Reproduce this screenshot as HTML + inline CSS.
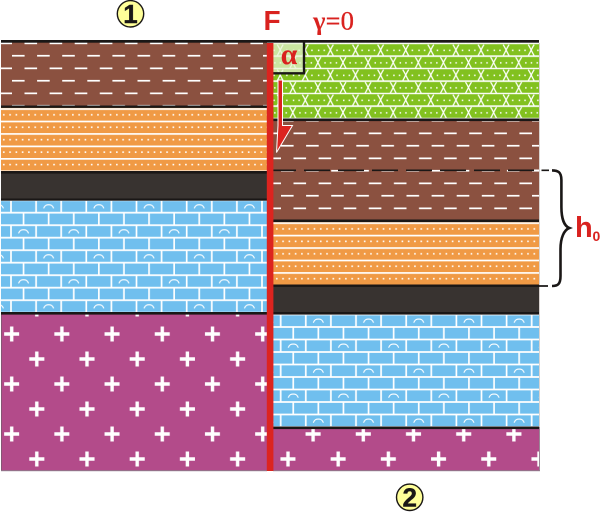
<!DOCTYPE html>
<html>
<head>
<meta charset="utf-8">
<style>
html,body{margin:0;padding:0;background:#fff;width:600px;height:512px;overflow:hidden}
svg{display:block}
</style>
</head>
<body>
<svg width="600" height="512" viewBox="0 0 600 512" xmlns="http://www.w3.org/2000/svg">
<defs>
<pattern id="brL" patternUnits="userSpaceOnUse" x="12" y="50" width="25.1" height="25">
<rect width="25.1" height="25" fill="#8b5140"/>
<rect x="0" y="4.9" width="12.6" height="1.7" fill="#fff"/>
<rect x="12.5" y="17.5" width="12.6" height="1.7" fill="#fff"/>
</pattern>
<pattern id="brR" patternUnits="userSpaceOnUse" x="281" y="140" width="25.1" height="25">
<rect width="25.1" height="25" fill="#8b5140"/>
<rect x="0" y="4.9" width="12.6" height="1.7" fill="#fff"/>
<rect x="12.5" y="17.5" width="12.6" height="1.7" fill="#fff"/>
</pattern>
<pattern id="orL" patternUnits="userSpaceOnUse" x="1" y="108.2" width="6.28" height="12.45">
<rect width="6.28" height="12.45" fill="#f09a45"/>
<rect y="0" width="6.28" height="1.7" fill="#fff"/>
<rect x="2" y="5.8" width="1.6" height="1.6" fill="#fff"/>
</pattern>
<pattern id="orR" patternUnits="userSpaceOnUse" x="274" y="222.3" width="6.28" height="12.45">
<rect width="6.28" height="12.45" fill="#f09a45"/>
<rect y="0" width="6.28" height="1.7" fill="#fff"/>
<rect x="2" y="5.8" width="1.6" height="1.6" fill="#fff"/>
</pattern>
<pattern id="blL" patternUnits="userSpaceOnUse" x="11" y="200.2" width="50.2" height="50">
<rect width="50.2" height="50" fill="#70bfee"/>
<g stroke="#fff" stroke-width="1.7" fill="none">
<path d="M0 12.5H50.2M0 25H50.2M0 37.5H50.2M0 0H50.2M0 50H50.2"/>
<path d="M0 0V12.5M25.1 0V12.5M50.2 0V12.5M0 25V37.5M25.1 25V37.5M50.2 25V37.5M12.55 12.5V25M37.65 12.5V25M12.55 37.5V50M37.65 37.5V50"/>
<path d="M32.6 8.2C33.8 5 35.5 4.6 37.65 4.6C39.8 4.6 41.5 5 42.7 8.2M7.5 33.2C8.7 30 10.4 29.6 12.55 29.6C14.7 29.6 16.4 30 17.6 33.2" stroke-width="1.1"/>
</g>
</pattern>
<pattern id="blR" patternUnits="userSpaceOnUse" x="280.7" y="314.5" width="50.2" height="50">
<rect width="50.2" height="50" fill="#70bfee"/>
<g stroke="#fff" stroke-width="1.7" fill="none">
<path d="M0 12.5H50.2M0 25H50.2M0 37.5H50.2M0 0H50.2M0 50H50.2"/>
<path d="M0 0V12.5M25.1 0V12.5M50.2 0V12.5M0 25V37.5M25.1 25V37.5M50.2 25V37.5M12.55 12.5V25M37.65 12.5V25M12.55 37.5V50M37.65 37.5V50"/>
<path d="M32.6 8.2C33.8 5 35.5 4.6 37.65 4.6C39.8 4.6 41.5 5 42.7 8.2M7.5 33.2C8.7 30 10.4 29.6 12.55 29.6C14.7 29.6 16.4 30 17.6 33.2" stroke-width="1.1"/>
</g>
</pattern>
<pattern id="mgL" patternUnits="userSpaceOnUse" x="-0.85" y="371.5" width="50.2" height="50">
<rect width="50.2" height="50" fill="#b34b8a"/>
<path d="M5 12.5H20M12.55 5V20M30.1 37.5H45.2M37.65 30V45" stroke="#fff" stroke-width="3.4" fill="none"/>
</pattern>
<pattern id="mgR" patternUnits="userSpaceOnUse" x="275.45" y="446.5" width="50.2" height="50">
<rect width="50.2" height="50" fill="#b34b8a"/>
<path d="M5 12.5H20M12.55 5V20M30.1 37.5H45.2M37.65 30V45" stroke="#fff" stroke-width="3.4" fill="none"/>
</pattern>
<pattern id="gr" patternUnits="userSpaceOnUse" x="317.9" y="44.2" width="25.1" height="25">
<rect width="25.1" height="25" fill="#82c11f"/>
<path d="M0 11.9H25.1M0 24.4H25.1" stroke="#fff" stroke-width="1.6"/>
<g stroke="#fff" stroke-width="1.3" fill="none">
<path d="M9.5 0.5C11.5 3 13.5 8.5 15.5 11.5M15.5 0.5C13.5 3 11.5 8.5 9.5 11.5"/>
<path d="M-3 13C-1 15.5 1 21 3 24M3 13C1 15.5 -1 21 -3 24M22.1 13C24.1 15.5 26.1 21 28.1 24M28.1 13C26.1 15.5 24.1 21 22.1 24"/>
</g>
<g fill="#fff">
<rect x="0" y="5.4" width="1.5" height="1.5"/><rect x="5.6" y="5.4" width="1.5" height="1.5"/><rect x="18.4" y="5.4" width="1.5" height="1.5"/>
<rect x="6.4" y="17.9" width="1.5" height="1.5"/><rect x="12" y="17.9" width="1.5" height="1.5"/><rect x="17.8" y="17.9" width="1.5" height="1.5"/>
</g>
</pattern>
</defs>

<!-- Left column -->
<rect x="1" y="42" width="266" height="65" fill="url(#brL)"/>
<rect x="1" y="107" width="266" height="65" fill="url(#orL)"/>
<rect x="1" y="171" width="266" height="30" fill="#383330"/>
<rect x="1" y="200.5" width="266" height="113" fill="url(#blL)"/>
<rect x="1" y="314" width="266" height="157" fill="url(#mgL)"/>
<rect x="1" y="314" width="0.8" height="157" fill="#7a5a70"/>
<rect x="1" y="470.2" width="266" height="1" fill="#8f7a8a"/>
<g fill="#1a1716">
<rect x="1" y="105.5" width="266" height="2.4"/>
<rect x="1" y="171" width="266" height="2.6"/>
<rect x="1" y="198.5" width="266" height="2.2"/>
<rect x="1" y="312" width="266" height="2.6"/>
</g>

<!-- Right column -->
<rect x="273" y="43" width="266" height="77" fill="url(#gr)"/>
<rect x="273" y="120" width="266" height="101" fill="url(#brR)"/>
<rect x="273" y="222" width="266" height="64" fill="url(#orR)"/>
<rect x="273" y="285" width="266" height="30" fill="#383330"/>
<rect x="273" y="314.5" width="266" height="113" fill="url(#blR)"/>
<rect x="273" y="427" width="266" height="44" fill="url(#mgR)"/>
<rect x="539" y="427" width="0.9" height="44" fill="#8f7a8a"/>
<rect x="273" y="470.2" width="267" height="1" fill="#8f7a8a"/>
<rect x="539" y="43" width="0.8" height="384" fill="#cfc8c4"/>
<g fill="#1a1716">
<rect x="273" y="118.5" width="266" height="2.6"/>
<rect x="273" y="219.5" width="266" height="2.6"/>
<rect x="273" y="284.5" width="266" height="2.4"/>
<rect x="273" y="312" width="266" height="2.6"/>
<rect x="273" y="426.5" width="266" height="2.6"/>
</g>

<!-- Dashed marker line -->
<path d="M270 170.3H296M304 170.3H330M338 170.3H364M372 170.3H398M406 170.3H432M440 170.3H466M474 170.3H500M508 170.3H534M541.5 170.3H549" stroke="#1a1716" stroke-width="1.7" fill="none"/>
<rect x="534" y="169.5" width="5" height="1.6" fill="#fff"/>
<path d="M530 286H548" stroke="#1a1716" stroke-width="1.7" fill="none"/>

<!-- Top line -->
<rect x="1" y="40" width="538" height="2.7" fill="#1a1716"/>

<!-- alpha box -->
<rect x="273" y="43" width="31" height="30" fill="#e6f2d4" fill-opacity="0.72"/>
<path d="M304 41V73.3H272.5" stroke="#1a1716" stroke-width="2.4" fill="none"/>
<text x="289" y="64" text-anchor="middle" font-family="'Liberation Serif',serif" font-weight="bold" font-size="30" fill="#d9221f">α</text>

<!-- Fault -->
<rect x="266.8" y="43" width="6.6" height="428" fill="#dc241f"/>

<!-- Arrow -->
<path d="M278 80H282.5V125.5H292.5L276.5 152.5L278 125.5Z" fill="#dc241f" stroke="#fff" stroke-width="1" stroke-linejoin="miter"/>

<!-- Brace -->
<path d="M552 170.4C558 170.4 561.4 172 561.4 180V207C561.4 218 564 226 569.3 228C564 230 560.5 238 560.5 249V276C560.5 284 558 286 552 286" stroke="#1a1716" stroke-width="2.6" fill="none"/>

<!-- Labels -->
<text x="263.5" y="30" font-family="'Liberation Sans',sans-serif" font-weight="bold" font-size="28" fill="#d9221f">F</text>
<text x="313" y="29.5" font-family="'Liberation Serif',serif" font-size="26" fill="#d9221f" textLength="41" lengthAdjust="spacingAndGlyphs"><tspan font-weight="bold">γ=</tspan><tspan stroke="#d9221f" stroke-width="0.3">0</tspan></text>
<text x="575" y="237" font-family="'Liberation Sans',sans-serif" font-weight="bold" font-size="29" fill="#d9221f">h</text>
<text x="592.5" y="241" font-family="'Liberation Sans',sans-serif" font-weight="bold" font-size="14" fill="#d9221f">0</text>

<circle cx="130.5" cy="13.8" r="13.2" fill="#ffff99" stroke="#1a1716" stroke-width="1.4"/>
<text x="130.5" y="23" text-anchor="middle" font-family="'Liberation Sans',sans-serif" font-weight="bold" font-size="26" fill="#1a1716" stroke="#1a1716" stroke-width="0.4">1</text>
<circle cx="409.7" cy="497.3" r="13.2" fill="#ffff99" stroke="#1a1716" stroke-width="1.4"/>
<text x="409.7" y="506.5" text-anchor="middle" font-family="'Liberation Sans',sans-serif" font-weight="bold" font-size="26" fill="#1a1716" stroke="#1a1716" stroke-width="0.4">2</text>
</svg>
</body>
</html>
